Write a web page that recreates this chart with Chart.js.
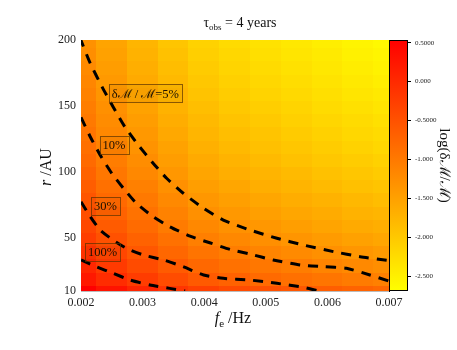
<!DOCTYPE html>
<html>
<head>
<meta charset="utf-8">
<script src="https://cdn.jsdelivr.net/npm/chart.js@4.4.1/dist/chart.umd.min.js"></script>
<style>
  html, body { margin: 0; padding: 0; background: #fff; }
</style>
</head>
<body>
<canvas id="chart" width="457" height="350"></canvas>
<script>
// grid of the map: frequency columns and radius rows
const freqs = [0.002, 0.0025, 0.003, 0.0035, 0.004, 0.0045, 0.005, 0.0055, 0.006, 0.0065, 0.007]
const radii = [10, 20, 30, 40, 50, 60, 70, 80, 90, 100, 110, 120, 130, 140, 150, 160, 170, 180, 190, 200]

// log(dM/M), one row per radius
const logErr = [
  [0.53, 0.29, 0.07, -0.13, -0.29, -0.41, -0.49, -0.57, -0.65, -0.72, -0.78],
  [0.23, -0.02, -0.23, -0.43, -0.60, -0.71, -0.80, -0.88, -0.95, -1.02, -1.08],
  [0.05, -0.20, -0.41, -0.61, -0.78, -0.89, -0.97, -1.05, -1.13, -1.20, -1.26],
  [-0.11, -0.35, -0.57, -0.77, -0.93, -1.05, -1.13, -1.21, -1.29, -1.36, -1.42],
  [-0.25, -0.49, -0.70, -0.90, -1.07, -1.18, -1.27, -1.35, -1.43, -1.50, -1.56],
  [-0.36, -0.61, -0.82, -1.02, -1.18, -1.30, -1.38, -1.46, -1.54, -1.61, -1.67],
  [-0.46, -0.70, -0.91, -1.11, -1.28, -1.39, -1.48, -1.56, -1.63, -1.71, -1.76],
  [-0.54, -0.79, -1.00, -1.20, -1.37, -1.48, -1.57, -1.65, -1.72, -1.79, -1.85],
  [-0.64, -0.88, -1.09, -1.29, -1.46, -1.57, -1.66, -1.74, -1.82, -1.89, -1.95],
  [-0.72, -0.97, -1.18, -1.38, -1.55, -1.66, -1.74, -1.82, -1.90, -1.97, -2.03],
  [-0.80, -1.04, -1.25, -1.45, -1.62, -1.73, -1.82, -1.90, -1.98, -2.05, -2.11],
  [-0.87, -1.11, -1.32, -1.52, -1.69, -1.80, -1.89, -1.97, -2.05, -2.12, -2.18],
  [-0.93, -1.18, -1.39, -1.59, -1.76, -1.87, -1.95, -2.03, -2.11, -2.18, -2.24],
  [-0.99, -1.24, -1.45, -1.65, -1.81, -1.93, -2.01, -2.09, -2.17, -2.24, -2.30],
  [-1.05, -1.29, -1.51, -1.71, -1.87, -1.99, -2.07, -2.15, -2.23, -2.30, -2.36],
  [-1.11, -1.35, -1.56, -1.76, -1.93, -2.04, -2.13, -2.21, -2.28, -2.36, -2.41],
  [-1.16, -1.40, -1.61, -1.81, -1.98, -2.09, -2.18, -2.26, -2.34, -2.41, -2.47],
  [-1.21, -1.45, -1.66, -1.86, -2.03, -2.14, -2.23, -2.31, -2.39, -2.46, -2.52],
  [-1.26, -1.50, -1.71, -1.91, -2.08, -2.19, -2.28, -2.36, -2.43, -2.51, -2.56],
  [-1.30, -1.54, -1.76, -1.96, -2.12, -2.24, -2.32, -2.40, -2.48, -2.55, -2.61]
]

// contour lines [f, r]
const contour5 = [[0.00198, 202], [0.00215, 182.4], [0.00234, 164.7], [0.00252, 149.5], [0.00271, 134.4], [0.00293, 120.5], [0.00315, 107.9], [0.00339, 95.3], [0.00366, 84.0], [0.00399, 72.6], [0.00431, 63.7], [0.00474, 56.2], [0.00518, 49.9], [0.00561, 44.8], [0.0061, 39.8], [0.00653, 36.0], [0.007, 33.0]]
const contour10 = [[0.002, 141.5], [0.00215, 126.8], [0.00231, 113.0], [0.0025, 99.1], [0.00269, 87.7], [0.0029, 76.4], [0.00317, 66.3], [0.00344, 58.7], [0.00377, 51.5], [0.00409, 46.5], [0.00442, 41.5], [0.00474, 38.0], [0.00512, 33.5], [0.00556, 29.7], [0.00593, 28.4], [0.00631, 27.2], [0.00669, 22.1], [0.007, 17.5]]
const contour30 = [[0.002, 77.6], [0.00215, 66.3], [0.00231, 56.2], [0.00252, 48.6], [0.00274, 42.3], [0.00301, 37.3], [0.00334, 33.5], [0.00366, 28.4], [0.00399, 22.1], [0.00431, 19.6], [0.00474, 18.3], [0.00518, 15.8], [0.00561, 12.8], [0.00585, 10]]
const contour100 = [[0.002, 33.5], [0.00225, 28.4], [0.00252, 23.4], [0.0028, 18.3], [0.00312, 14.5], [0.00344, 12.0], [0.00369, 10]]
const contourNames = ['δℳ / ℳ=5%', '10%', '30%', '100%']

const yTicks = [10, 50, 100, 150, 200]
const cbTicks = [-2.5, -2, -1.5, -1, -0.5, 0, 0.5]
const cbLabels = ['-2.500', '-2.000', '-1.500', '-1.000', '-0.5000', '0.000', '0.5000']

const cMin = -2.69
const cMax = 0.535
const dF = 0.0005
const dR = 10
const serif = "'Liberation Serif', 'DejaVu Serif', serif"

function colorFor(v) {
  let t = (v - cMin) / (cMax - cMin)
  t = Math.max(0, Math.min(1, t))
  return 'rgb(255,' + Math.round(255 * (1 - t)) + ',0)'
}

const toPts = arr => arr.map(p => ({ x: p[0], y: p[1] }))

// where the contour labels sit (data units of the box centre)
const labelAnchors = [[0.003044, 159.6], [0.002536, 120.5], [0.002398, 74.3], [0.002351, 39.5]]

function drawRuns(ctx, runs, cx, baseline) {
  let total = 0
  runs.forEach(r => {
    ctx.font = (r.italic ? 'italic ' : '') + r.size + 'px ' + serif
    r.w = ctx.measureText(r.t).width
    total += r.w
  })
  let x = cx - total / 2
  ctx.textAlign = 'left'
  ctx.textBaseline = 'alphabetic'
  runs.forEach(r => {
    ctx.font = (r.italic ? 'italic ' : '') + r.size + 'px ' + serif
    ctx.fillText(r.t, x, baseline + (r.dy || 0))
    x += r.w
  })
}

const heatmap = {
  id: 'heatmap',
  beforeDatasetsDraw(chart) {
    const { ctx, chartArea: a, scales: { x, y } } = chart
    ctx.save()
    ctx.beginPath()
    ctx.rect(a.left, a.top, a.width, a.height)
    ctx.clip()
    radii.forEach((r, j) => {
      freqs.forEach((f, i) => {
        const x0 = Math.floor(x.getPixelForValue(f - dF / 2))
        const x1 = Math.ceil(x.getPixelForValue(f + dF / 2))
        const y0 = Math.floor(y.getPixelForValue(r + dR / 2))
        const y1 = Math.ceil(y.getPixelForValue(r - dR / 2))
        ctx.fillStyle = colorFor(logErr[j][i])
        ctx.fillRect(x0, y0, x1 - x0 + 1, y1 - y0 + 1)
      })
    })
    ctx.restore()
  },
  afterDraw(chart) {
    const { ctx, chartArea: a, scales: { x, y, c } } = chart
    ctx.save()

    // colour bar
    const top = c.getPixelForValue(cMax)
    const bot = c.getPixelForValue(cMin)
    const g = ctx.createLinearGradient(0, top, 0, bot)
    g.addColorStop(0, 'rgb(255,0,0)')
    g.addColorStop(1, 'rgb(255,255,0)')
    ctx.fillStyle = g
    ctx.fillRect(a.right, top, 18, bot - top)
    ctx.strokeStyle = '#000'
    ctx.lineWidth = 1
    ctx.strokeRect(a.right + 0.5, top + 0.5, 18, bot - top - 1)

    // contour labels
    ctx.font = '12.5px ' + serif
    contourNames.forEach((name, k) => {
      const px = x.getPixelForValue(labelAnchors[k][0])
      const py = y.getPixelForValue(labelAnchors[k][1])
      const w = ctx.measureText(name).width + 6
      const h = 18
      ctx.fillStyle = 'rgba(0,0,0,0.03)'
      ctx.fillRect(px - w / 2, py - h / 2, w, h)
      ctx.strokeStyle = 'rgba(90,50,0,0.7)'
      ctx.strokeRect(Math.round(px - w / 2) + 0.5, Math.round(py - h / 2) + 0.5, Math.round(w), h)
      ctx.fillStyle = '#1a1000'
      ctx.textAlign = 'center'
      ctx.textBaseline = 'middle'
      ctx.fillText(name, px, py + 1)
    })

    // titles
    ctx.fillStyle = '#111'
    drawRuns(ctx, [
      { t: 'τ', size: 14 },
      { t: 'obs', size: 9, dy: 3 },
      { t: ' = 4 years', size: 14 }
    ], 240, 27)
    drawRuns(ctx, [
      { t: 'f', size: 16, italic: true },
      { t: 'e', size: 11, dy: 4 },
      { t: ' /Hz', size: 16 }
    ], 233, 323)
    ctx.translate(45, 167)
    ctx.rotate(-Math.PI / 2)
    drawRuns(ctx, [
      { t: 'r', size: 16, italic: true },
      { t: ' /AU', size: 16 }
    ], 0, 6)
    ctx.restore()
  }
}

const lineStyle = {
  showLine: true,
  borderColor: '#000',
  borderWidth: 3,
  borderDash: [10, 8],
  pointRadius: 0,
  tension: 0.2,
  fill: false
}

new Chart(document.getElementById('chart'), {
  type: 'scatter',
  data: {
    datasets: [
      { label: '5%', data: toPts(contour5), ...lineStyle },
      { label: '10%', data: toPts(contour10), ...lineStyle },
      { label: '30%', data: toPts(contour30), ...lineStyle },
      { label: '100%', data: toPts(contour100), ...lineStyle }
    ]
  },
  options: {
    responsive: false,
    animation: false,
    layout: { padding: { top: 40, left: 0, right: 4, bottom: 0 } },
    plugins: {
      legend: { display: false },
      tooltip: { enabled: false },
      title: { display: false }
    },
    scales: {
      x: {
        type: 'linear',
        min: 0.002,
        max: 0.007,
        afterFit: s => { s.height = 59 },
        ticks: {
          stepSize: 0.001,
          padding: 5,
          color: '#222',
          font: { family: serif, size: 12 },
          callback: v => v.toFixed(3)
        },
        grid: { display: false, drawTicks: false },
        border: { display: true, color: '#bbb', width: 1 }
      },
      y: {
        type: 'linear',
        min: 10,
        max: 200,
        afterFit: s => { s.width = 81 },
        afterBuildTicks: s => { s.ticks = yTicks.map(v => ({ value: v })) },
        ticks: {
          padding: 5,
          color: '#222',
          font: { family: serif, size: 12 }
        },
        grid: { display: false, drawTicks: false },
        border: { display: false }
      },
      c: {
        type: 'linear',
        position: 'right',
        min: cMin,
        max: cMax,
        afterFit: s => { s.width = 64 },
        afterBuildTicks: s => { s.ticks = cbTicks.map(v => ({ value: v })) },
        ticks: {
          padding: 4,
          color: '#222',
          font: { family: serif, size: 7 },
          callback: (v, i) => cbLabels[i]
        },
        grid: { drawOnChartArea: false, tickLength: 22, color: '#000', lineWidth: 1 },
        border: { display: true, color: '#000' },
        title: {
          display: true,
          text: 'log(δℳ/ℳ)',
          color: '#111',
          font: { family: serif, size: 15 },
          padding: { top: 0, bottom: 6 }
        }
      }
    }
  },
  plugins: [heatmap]
})
</script>
</body>
</html>
